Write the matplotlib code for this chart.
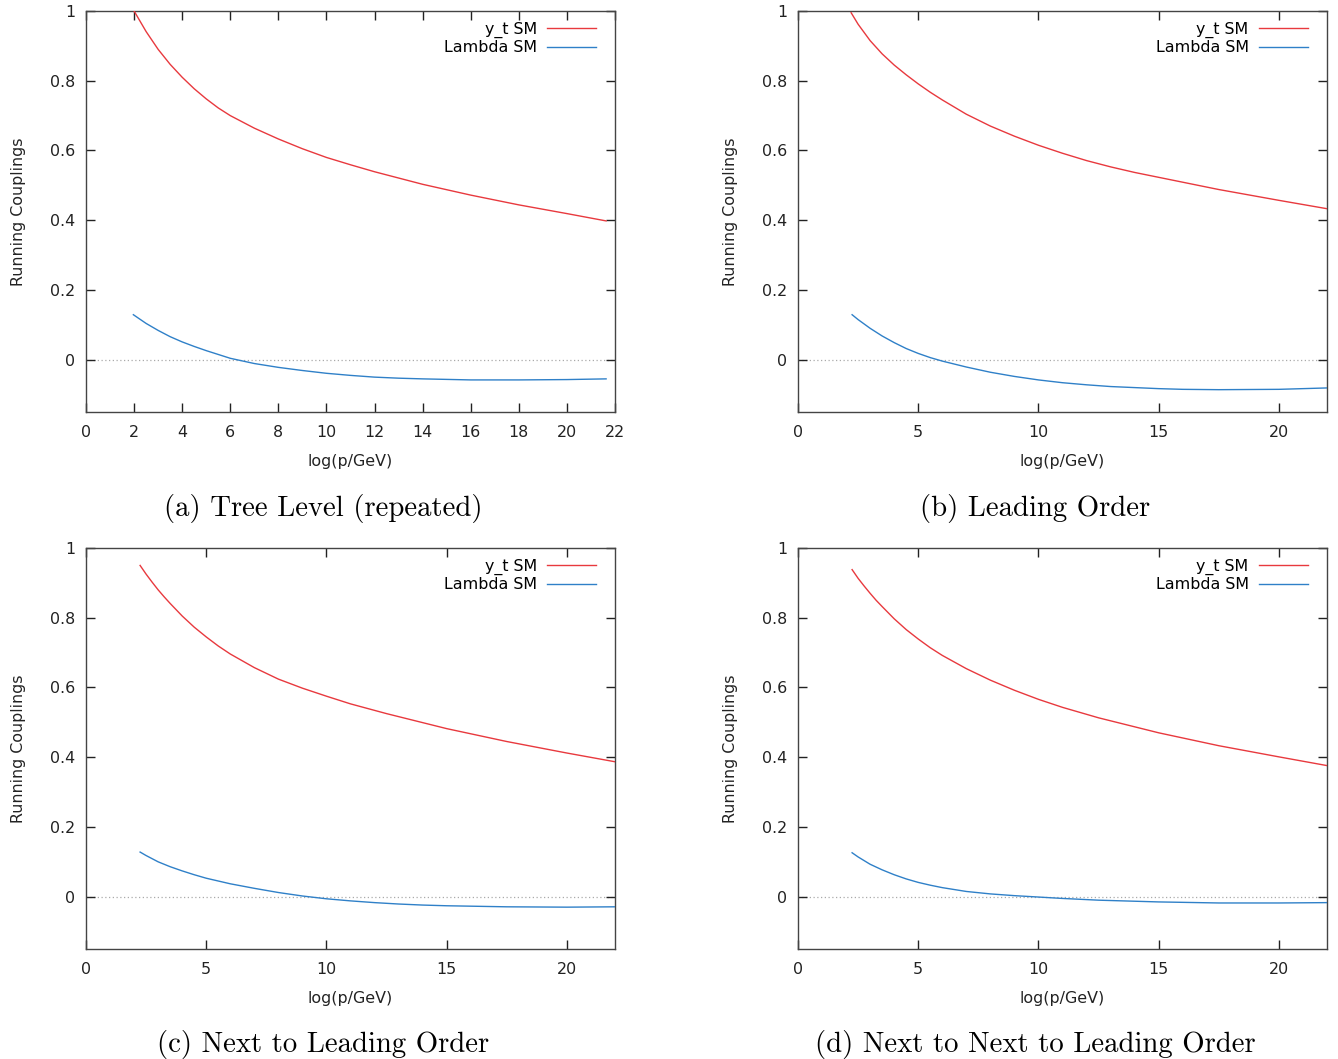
import matplotlib
matplotlib.use("Agg")
import matplotlib.pyplot as plt

# x = log(p/GeV)
a_yt_x = [2.0, 2.5, 3.0, 3.5, 4.0, 4.5, 5.0, 5.5, 6.0, 7.0, 8.0, 9.0, 10.0, 11.0, 12.0, 14.0, 16.0, 18.0, 20.0, 21.63]
a_yt_y = [1.0, 0.941, 0.890, 0.847, 0.810, 0.777, 0.748, 0.722, 0.700, 0.664, 0.633, 0.605, 0.580, 0.559, 0.539, 0.503, 0.472, 0.444, 0.419, 0.398]
a_lam_x = [1.97, 2.5, 3.0, 3.5, 4.0, 4.5, 5.0, 5.5, 6.0, 7.0, 8.0, 9.0, 10.0, 11.0, 12.0, 13.0, 14.0, 16.0, 18.0, 20.0, 21.63]
a_lam_y = [0.129, 0.104, 0.084, 0.066, 0.051, 0.038, 0.026, 0.015, 0.004, -0.011, -0.022, -0.031, -0.039, -0.045, -0.050, -0.053, -0.055, -0.058, -0.058, -0.057, -0.055]

b_yt_x = [2.21, 2.5, 3.0, 3.5, 4.0, 4.5, 5.0, 5.5, 6.0, 7.0, 8.0, 9.0, 10.0, 11.0, 12.0, 13.0, 14.0, 15.0, 17.5, 20.0, 22.0]
b_yt_y = [0.995, 0.962, 0.915, 0.877, 0.845, 0.817, 0.791, 0.767, 0.745, 0.704, 0.670, 0.641, 0.615, 0.592, 0.571, 0.553, 0.537, 0.523, 0.488, 0.457, 0.433]
b_lam_x = [2.25, 2.5, 3.0, 3.5, 4.0, 4.5, 5.0, 5.5, 6.0, 7.0, 8.0, 9.0, 10.0, 11.0, 12.0, 13.0, 14.0, 15.0, 16.0, 17.5, 20.0, 22.0]
b_lam_y = [0.129, 0.115, 0.090, 0.068, 0.049, 0.032, 0.018, 0.006, -0.004, -0.021, -0.036, -0.048, -0.058, -0.066, -0.072, -0.077, -0.080, -0.083, -0.085, -0.086, -0.085, -0.081]

c_yt_x = [2.25, 2.5, 2.75, 3.0, 3.25, 3.5, 4.0, 4.5, 5.0, 5.5, 6.0, 7.0, 8.0, 9.0, 10.0, 11.0, 12.5, 15.0, 17.5, 20.0, 22.0]
c_yt_y = [0.950, 0.925, 0.902, 0.880, 0.860, 0.841, 0.805, 0.773, 0.745, 0.719, 0.696, 0.657, 0.624, 0.598, 0.575, 0.553, 0.525, 0.482, 0.445, 0.412, 0.387]
c_lam_x = [2.25, 2.5, 3.0, 3.5, 4.0, 4.5, 5.0, 5.5, 6.0, 7.0, 8.0, 9.0, 10.0, 11.0, 12.0, 13.0, 14.0, 15.0, 17.5, 20.0, 22.0]
c_lam_y = [0.128, 0.118, 0.100, 0.086, 0.074, 0.063, 0.053, 0.045, 0.037, 0.024, 0.012, 0.002, -0.006, -0.012, -0.017, -0.021, -0.024, -0.026, -0.029, -0.030, -0.029]

d_yt_x = [2.25, 2.5, 2.75, 3.0, 3.25, 3.5, 4.0, 4.5, 5.0, 5.5, 6.0, 7.0, 8.0, 9.0, 10.0, 11.0, 12.5, 15.0, 17.5, 20.0, 22.0]
d_yt_y = [0.938, 0.913, 0.891, 0.870, 0.850, 0.832, 0.797, 0.766, 0.739, 0.714, 0.692, 0.654, 0.621, 0.592, 0.566, 0.543, 0.513, 0.470, 0.433, 0.401, 0.376]
d_lam_x = [2.25, 2.5, 3.0, 3.5, 4.0, 4.5, 5.0, 5.5, 6.0, 7.0, 8.0, 9.0, 10.0, 11.0, 12.5, 15.0, 17.5, 20.0, 22.0]
d_lam_y = [0.126, 0.114, 0.093, 0.077, 0.063, 0.051, 0.041, 0.033, 0.026, 0.015, 0.008, 0.003, -0.001, -0.005, -0.010, -0.015, -0.018, -0.018, -0.017]

captions = ["(a) Tree Level (repeated)", "(b) Leading Order",
            "(c) Next to Leading Order", "(d) Next to Next to Leading Order"]
xtick_sets = [list(range(0, 23, 2)), [0, 5, 10, 15, 20], [0, 5, 10, 15, 20], [0, 5, 10, 15, 20]]
yticks = [0, 0.2, 0.4, 0.6, 0.8, 1]
ytick_labels = ["0", "0.2", "0.4", "0.6", "0.8", "1"]

panels = [(a_yt_x, a_yt_y, a_lam_x, a_lam_y),
          (b_yt_x, b_yt_y, b_lam_x, b_lam_y),
          (c_yt_x, c_yt_y, c_lam_x, c_lam_y),
          (d_yt_x, d_yt_y, d_lam_x, d_lam_y)]

RED = "#e8393e"
BLUE = "#2f80c8"
W, H = 1338, 1059
FS = 11.4

fig = plt.figure(figsize=(W / 100, H / 100), dpi=100)

# axes boxes in pixels: left, top
boxes = [(86, 11), (798, 11), (86, 548), (798, 548)]
aw, ah = 529, 401
cap_y = [508, 508, 1044, 1044]

for i, (yx, yy, lx, ly) in enumerate(panels):
    left, top = boxes[i]
    ax = fig.add_axes([left / W, 1 - (top + ah) / H, aw / W, ah / H])
    ax.axhline(0, color="#aaaaaa", lw=0.9, ls=(0, (1, 2)), zorder=1)
    ax.plot(yx, yy, color=RED, lw=1.0, label="y_t SM", zorder=3)
    ax.plot(lx, ly, color=BLUE, lw=1.0, label="Lambda SM", zorder=3)
    ax.set_xlim(0, 22)
    ax.set_ylim(-0.15, 1)
    ax.set_xticks(xtick_sets[i])
    ax.set_xticklabels([str(t) for t in xtick_sets[i]])
    ax.set_yticks(yticks)
    ax.set_yticklabels(ytick_labels)
    ax.tick_params(direction="in", length=6.5, width=1.0, top=True, right=True,
                   labelsize=FS, colors="#222222")
    ax.tick_params(axis="x", pad=9)
    ax.tick_params(axis="y", pad=8)
    for s in ax.spines.values():
        s.set_color("#444444")
        s.set_linewidth(1.0)
    ax.set_xlabel("log(p/GeV)", fontsize=FS, labelpad=10.5, color="#222222")
    ax.set_ylabel("Running Couplings", fontsize=FS, labelpad=17, color="#222222")
    ax.legend(loc="upper right", markerfirst=False, frameon=False, fontsize=FS,
              handlelength=3.1, handletextpad=0.65, labelspacing=0.15,
              borderpad=0, borderaxespad=0,
              bbox_to_anchor=(1 - 19 / aw, 1 - 10.5 / ah))
    fig.text((left + aw / 2 - 27) / W, 1 - cap_y[i] / H, captions[i],
             ha="center", va="center", fontsize=20.7, family="cmr10")

fig.savefig("out.png", dpi=100)
